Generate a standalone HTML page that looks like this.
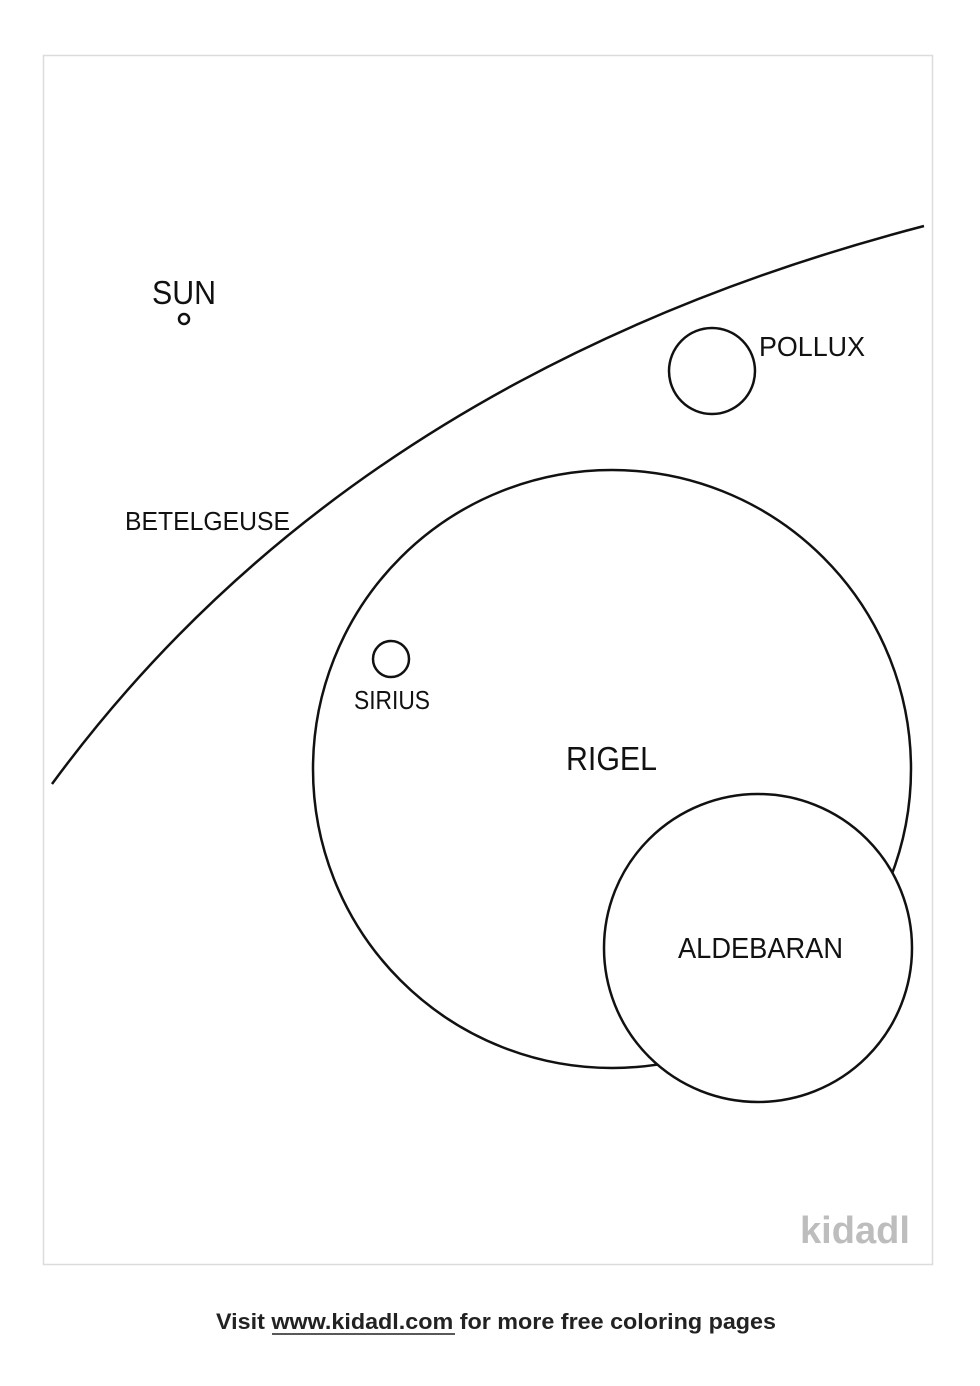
<!DOCTYPE html>
<html><head><meta charset="utf-8"><style>
html,body{margin:0;padding:0;background:#fff;width:980px;height:1386px;overflow:hidden}
</style></head><body>
<svg width="980" height="1386" viewBox="0 0 980 1386" xmlns="http://www.w3.org/2000/svg" font-family="Liberation Sans, sans-serif">
<rect x="43.5" y="55.5" width="889" height="1209" fill="#fff" stroke="#dcdcdc" stroke-width="1.5"/>
<path d="M52 784 Q352 375 924 226" fill="none" stroke="#111" stroke-width="2.5"/>
<circle cx="612" cy="769" r="299" fill="none" stroke="#111" stroke-width="2.5"/>
<circle cx="758" cy="948" r="154" fill="#fff" stroke="#111" stroke-width="2.5"/>
<circle cx="712" cy="371" r="43" fill="none" stroke="#111" stroke-width="2.5"/>
<circle cx="391" cy="659" r="18" fill="none" stroke="#111" stroke-width="2.5"/>
<circle cx="184" cy="319" r="5" fill="none" stroke="#111" stroke-width="2.5"/>
<g fill="#111">
<text x="152" y="304" font-size="33" textLength="64" lengthAdjust="spacingAndGlyphs">SUN</text>
<text x="759" y="356" font-size="28" textLength="106" lengthAdjust="spacingAndGlyphs">POLLUX</text>
<text x="125" y="530" font-size="26" textLength="165" lengthAdjust="spacingAndGlyphs">BETELGEUSE</text>
<text x="354" y="709" font-size="26" textLength="76" lengthAdjust="spacingAndGlyphs">SIRIUS</text>
<text x="566" y="770" font-size="33" textLength="91" lengthAdjust="spacingAndGlyphs">RIGEL</text>
<text x="678" y="958" font-size="29" textLength="165" lengthAdjust="spacingAndGlyphs">ALDEBARAN</text>
</g>
<text x="800" y="1243" font-size="38" font-weight="bold" fill="#bdbdbd" textLength="110" lengthAdjust="spacingAndGlyphs">kidadl</text>
<text x="216" y="1329" font-size="22" font-weight="bold" fill="#222" textLength="560" lengthAdjust="spacingAndGlyphs">Visit www.kidadl.com for more free coloring pages</text>
<line x1="272" y1="1334" x2="455" y2="1334" stroke="#222" stroke-width="1.5"/>
</svg>
</body></html>
